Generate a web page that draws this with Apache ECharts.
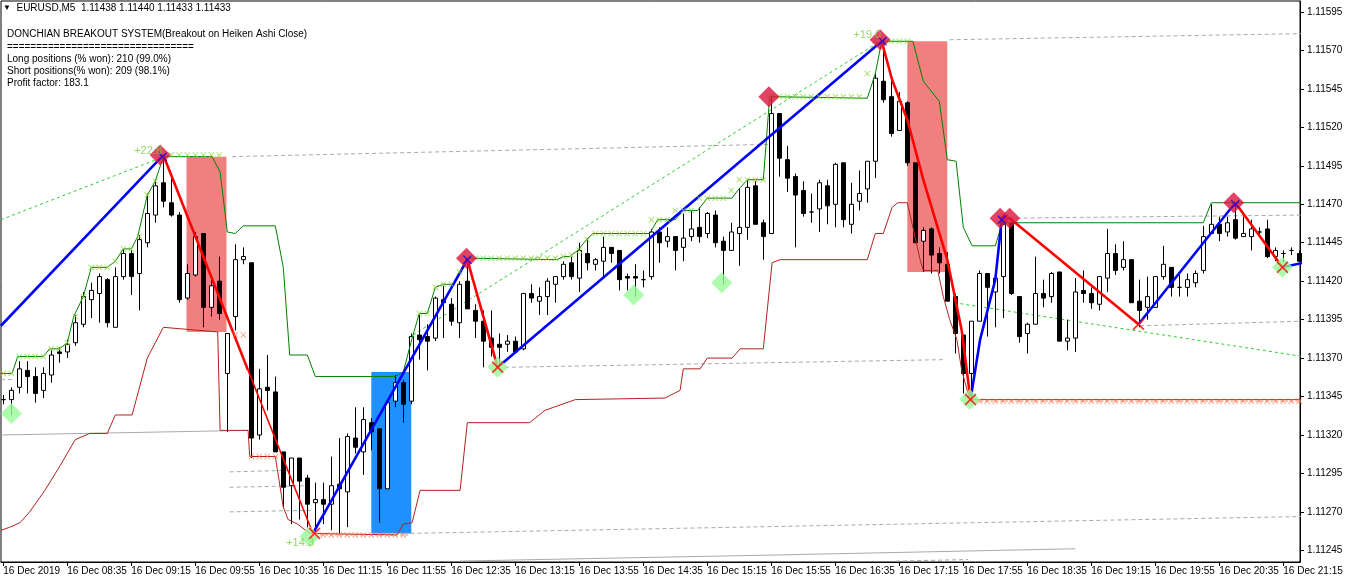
<!DOCTYPE html>
<html><head><meta charset="utf-8">
<script src="https://cdn.jsdelivr.net/npm/echarts@6/dist/echarts.min.js"></script>
<style>html,body{margin:0;padding:0;background:#fff}#c{width:1346px;height:582px}</style>
</head><body><div id="c"></div>
<script>
// ---------- axis labels ----------
const timeLabels = ['16 Dec 2019','16 Dec 08:35','16 Dec 09:15','16 Dec 09:55','16 Dec 10:35','16 Dec 11:15','16 Dec 11:55','16 Dec 12:35','16 Dec 13:15','16 Dec 13:55','16 Dec 14:35','16 Dec 15:15','16 Dec 15:55','16 Dec 16:35','16 Dec 17:15','16 Dec 17:55','16 Dec 18:35','16 Dec 19:15','16 Dec 19:55','16 Dec 20:35','16 Dec 21:15'];
const timeLabelBars = [0,8,16,24,32,40,48,56,64,72,80,88,96,104,112,120,128,136,144,152,160];
const priceTicks = [1.11245,1.11270,1.11295,1.11320,1.11345,1.11370,1.11395,1.11420,1.11445,1.11470,1.11495,1.11520,1.11545,1.11570,1.11595];

// ---------- candles (bar 0 = 16 Dec 07:55, M5) ----------
const opens = [1.11343,1.11343,1.11351,1.11362,1.11358,1.11349,1.11359,1.11374,1.11374,1.11380,
1.11392,1.11408,1.11412,1.11421,1.11390,1.11423,1.11438,1.11425,1.11445,1.11463,
1.11484,1.11471,1.11463,1.11409,1.11424,1.11451,1.11403,1.11420,1.11360,1.11397,
1.11434,1.11432,1.11320,1.11351,1.11348,1.11309,1.11287,1.11305,1.11292,1.11276,
1.11278,1.11275,1.11288,1.11283,1.11318,1.11309,1.11328,1.11324,1.11285,1.11342,
1.11354,1.11342,1.11385,1.11384,1.11383,1.11408,1.11405,1.11393,1.11420,1.11401,
1.11394,1.11383,1.11379,1.11379,1.11381,1.11376,1.11412,1.11407,1.11410,1.11418,
1.11423,1.11432,1.11422,1.11438,1.11431,1.11433,1.11442,1.11440,1.11423,1.11423,
1.11421,1.11423,1.11452,1.11446,1.11449,1.11442,1.11449,1.11455,1.11451,1.11463,
1.11446,1.11440,1.11451,1.11455,1.11482,1.11458,1.11451,1.11529,1.11499,1.11488,
1.11479,1.11465,1.11467,1.11482,1.11470,1.11497,1.11457,1.11472,1.11480,1.11498,
1.11550,1.11540,1.11518,1.11536,1.11497,1.11446,1.11454,1.11438,1.11431,1.11410,
1.11385,1.11360,1.11394,1.11425,1.11413,1.11423,1.11458,1.11410,1.11386,1.11392,
1.11412,1.11410,1.11426,1.11381,1.11383,1.11414,1.11412,1.11405,1.11422,1.11438,
1.11429,1.11434,1.11407,1.11403,1.11403,1.11423,1.11429,1.11416,1.11416,1.11419,
1.11427,1.11451,1.11457,1.11452,1.11460,1.11449,1.11449,1.11452,1.11454,1.11436,
1.11438,1.11440,1.11438];
const highs = [1.11346,1.11351,1.11368,1.11368,1.11364,1.11364,1.11375,1.11377,1.11382,1.11398,
1.11413,1.11419,1.11425,1.11422,1.11429,1.11441,1.11440,1.11450,1.11477,1.11486,
1.11501,1.11488,1.11465,1.11431,1.11452,1.11451,1.11423,1.11436,1.11386,1.11444,
1.11442,1.11432,1.11363,1.11372,1.11358,1.11309,1.11305,1.11305,1.11294,1.11289,
1.11289,1.11306,1.11318,1.11321,1.11338,1.11338,1.11331,1.11324,1.11341,1.11359,
1.11356,1.11386,1.11398,1.11392,1.11410,1.11417,1.11409,1.11420,1.11435,1.11405,
1.11401,1.11401,1.11386,1.11385,1.11384,1.11412,1.11418,1.11416,1.11422,1.11423,
1.11433,1.11436,1.11445,1.11448,1.11435,1.11449,1.11442,1.11440,1.11425,1.11431,
1.11427,1.11454,1.11455,1.11455,1.11449,1.11464,1.11466,1.11468,1.11465,1.11466,
1.11449,1.11458,1.11480,1.11486,1.11485,1.11460,1.11540,1.11529,1.11508,1.11490,
1.11485,1.11477,1.11486,1.11486,1.11497,1.11497,1.11484,1.11492,1.11498,1.11555,
1.11578,1.11550,1.11543,1.11537,1.11497,1.11455,1.11455,1.11442,1.11439,1.11412,
1.11385,1.11394,1.11427,1.11425,1.11427,1.11459,1.11458,1.11410,1.11393,1.11436,
1.11421,1.11426,1.11426,1.11395,1.11422,1.11427,1.11416,1.11423,1.11454,1.11444,
1.11446,1.11434,1.11421,1.11423,1.11423,1.11443,1.11429,1.11424,1.11425,1.11427,
1.11456,1.11470,1.11462,1.11462,1.11471,1.11462,1.11460,1.11455,1.11460,1.11442,
1.11440,1.11442,1.11440];
const lows = [1.11340,1.11333,1.11347,1.11347,1.11341,1.11344,1.11354,1.11367,1.11370,1.11378,
1.11390,1.11396,1.11393,1.11390,1.11390,1.11421,1.11411,1.11401,1.11442,1.11458,
1.11468,1.11462,1.11406,1.11408,1.11423,1.11390,1.11397,1.11395,1.11322,1.11388,
1.11431,1.11305,1.11317,1.11336,1.11309,1.11273,1.11262,1.11265,1.11260,1.11256,
1.11262,1.11258,1.11256,1.11260,1.11308,1.11294,1.11310,1.11263,1.11285,1.11338,
1.11328,1.11340,1.11369,1.11362,1.11381,1.11383,1.11391,1.11383,1.11402,1.11383,
1.11364,1.11371,1.11364,1.11374,1.11373,1.11375,1.11406,1.11398,1.11398,1.11406,
1.11421,1.11421,1.11413,1.11427,1.11427,1.11423,1.11432,1.11414,1.11414,1.11410,
1.11416,1.11421,1.11432,1.11442,1.11427,1.11433,1.11446,1.11445,1.11448,1.11442,
1.11418,1.11440,1.11430,1.11447,1.11457,1.11434,1.11451,1.11488,1.11478,1.11442,
1.11462,1.11458,1.11452,1.11457,1.11455,1.11455,1.11451,1.11466,1.11471,1.11487,
1.11536,1.11514,1.11518,1.11495,1.11445,1.11426,1.11425,1.11425,1.11407,1.11373,
1.11347,1.11343,1.11394,1.11384,1.11390,1.11396,1.11411,1.11380,1.11373,1.11392,
1.11403,1.11406,1.11381,1.11375,1.11374,1.11406,1.11402,1.11401,1.11413,1.11424,
1.11427,1.11406,1.11390,1.11395,1.11403,1.11421,1.11410,1.11410,1.11410,1.11416,
1.11425,1.11451,1.11446,1.11449,1.11447,1.11449,1.11440,1.11449,1.11435,1.11433,
1.11432,1.11437,1.11433];
const closes = [1.11343,1.11349,1.11363,1.11358,1.11347,1.11360,1.11372,1.11373,1.11379,1.11393,
1.11410,1.11414,1.11423,1.11393,1.11423,1.11438,1.11423,1.11447,1.11464,1.11482,
1.11472,1.11463,1.11408,1.11425,1.11449,1.11403,1.11417,1.11399,1.11386,1.11434,
1.11436,1.11318,1.11350,1.11349,1.11309,1.11286,1.11305,1.11290,1.11275,1.11278,
1.11275,1.11287,1.11285,1.11319,1.11312,1.11330,1.11322,1.11285,1.11341,1.11354,
1.11340,1.11384,1.11382,1.11381,1.11409,1.11406,1.11394,1.11418,1.11402,1.11394,
1.11381,1.11377,1.11377,1.11381,1.11374,1.11412,1.11409,1.11410,1.11420,1.11423,
1.11431,1.11423,1.11440,1.11432,1.11434,1.11442,1.11438,1.11421,1.11422,1.11422,
1.11421,1.11452,1.11445,1.11449,1.11440,1.11448,1.11454,1.11449,1.11464,1.11445,
1.11440,1.11452,1.11455,1.11481,1.11457,1.11449,1.11529,1.11500,1.11487,1.11476,
1.11464,1.11465,1.11484,1.11469,1.11496,1.11460,1.11470,1.11477,1.11498,1.11552,
1.11538,1.11516,1.11537,1.11497,1.11445,1.11453,1.11437,1.11432,1.11407,1.11386,
1.11360,1.11394,1.11425,1.11416,1.11422,1.11457,1.11412,1.11384,1.11392,1.11412,
1.11409,1.11425,1.11381,1.11383,1.11413,1.11412,1.11406,1.11423,1.11438,1.11427,
1.11434,1.11406,1.11401,1.11410,1.11423,1.11431,1.11416,1.11416,1.11421,1.11425,
1.11449,1.11457,1.11451,1.11458,1.11448,1.11451,1.11454,1.11452,1.11436,1.11440,
1.11438,1.11440,1.11433];

// ---------- Donchian channel ([bar, price]) ----------
const upperDonchian = [[-0.3,1.1136],[1.1,1.1136],[1.8,1.11371],[5,1.11371],[5.8,1.11376],[7,1.11376],[8,1.1138],[8.8,1.11397],[10,1.1141],[11,1.11429],[13,1.11429],[14,1.11433],[15,1.11441],[16,1.11441],[16.8,1.11449],[18,1.11476],[19,1.11485],[20,1.11501],[26.1,1.11501],[27.1,1.11491],[28,1.11452],[29,1.11451],[30,1.11456],[34,1.11456],[35,1.11429],[35.8,1.11372],[38,1.11372],[39,1.11358],[49,1.11358],[50,1.11361],[51.1,1.11383],[52,1.11399],[53,1.11399],[54,1.11416],[55,1.11418],[56.1,1.11418],[57.1,1.11426],[58,1.11435],[69.2,1.11434],[70,1.11436],[70.8,1.11436],[71.8,1.1144],[72.9,1.11447],[73.7,1.11451],[80.8,1.11451],[81.8,1.1146],[84,1.1146],[85,1.11466],[86.8,1.11466],[88,1.11474],[91.1,1.11474],[91.8,1.11479],[93,1.11486],[95,1.11486],[95.8,1.1154],[108,1.11539],[109,1.11555],[109.8,1.11576],[113.7,1.11576],[115,1.1155],[117,1.11537],[118,1.11499],[119.1,1.11498],[120,1.11455],[121.1,1.11443],[124,1.11443],[124.7,1.11455],[125,1.11458],[150,1.11458],[151,1.11471],[162.5,1.11471]];
const lowerDonchian = [[-0.3,1.11258],[0.8,1.1126],[2.1,1.11263],[3.3,1.1127],[5.2,1.11284],[7.1,1.113],[9,1.11317],[10.8,1.11321],[13,1.11321],[14,1.11333],[16.1,1.11333],[18,1.1137],[20,1.1139],[26.8,1.11387],[27.1,1.11323],[30.6,1.11323],[30.8,1.11306],[34,1.11306],[35,1.11273],[35.6,1.11265],[36.8,1.11262],[38.3,1.11256],[49.2,1.11255],[50,1.11262],[51.1,1.11263],[52.1,1.11284],[57.1,1.11284],[58,1.11328],[65.8,1.11328],[67.7,1.11336],[71.5,1.11343],[82.7,1.11344],[84.6,1.11349],[85,1.11363],[87.1,1.11363],[88,1.1137],[91.1,1.1137],[92.1,1.11376],[95,1.11376],[96.1,1.11432],[97.1,1.11434],[108,1.11434],[109,1.11451],[110,1.11451],[111.1,1.11468],[111.8,1.11471],[113,1.11471],[113.7,1.11455],[114.6,1.11434],[115,1.11427],[116.8,1.11427],[117.5,1.1141],[118.3,1.11395],[119.2,1.11382],[119.8,1.11362],[120.6,1.11347],[120.9,1.11343],[162.5,1.11343]];

// ---------- swing legs ----------
const upLegs = [
  [[-0.3,1.11391],[20,1.11502]],
  [[38.7,1.11256],[58,1.11434]],
  [[61.8,1.11364],[109.8,1.11576]],
  [[120.9,1.11343],[122.1,1.11382],[124,1.11421],[124.8,1.1146]],
  [[141.9,1.11392],[154,1.11471]],
  [[159.9,1.11429],[162.5,1.11432]]
];
const downLegs = [
  [[20,1.11502],[30.6,1.11362]],
  [[58,1.11434],[61.8,1.11364]],
  [[109.8,1.11576],[111.1,1.11551],[113,1.11525],[115,1.11486],[118,1.11434],[119.8,1.11388],[120.9,1.11343]],
  [[125.8,1.11461],[141.9,1.11392]],
  [[154,1.11471],[159.9,1.11429]]
];
const thinDownLegs = [[[30.6,1.11362],[38.7,1.11256]]];

// ---------- trade level lines ----------
const greyDashed = [
  [[28.6,1.11501],[95.8,1.11509]],
  [[118.3,1.11577],[162.5,1.11581]],
  [[-0.3,1.11356],[1.2,1.11356]],
  [[62.7,1.11364],[117.8,1.11369]],
  [[142.1,1.11391],[162.5,1.11394]],
  [[125.8,1.11461],[162.5,1.11463]],
  [[28.3,1.11296],[35.5,1.11297]],
  [[28.3,1.11286],[37.9,1.11287]],
  [[28.3,1.1127],[38.6,1.11271]],
  [[50.9,1.11256],[162.5,1.11267]],
  [[111.6,1.11238],[120.6,1.11239]]
];
const greySolid = [
  [[-0.3,1.1132],[30.6,1.11323]],
  [[57.1,1.11238],[96.9,1.11242],[134,1.11246]]
];
const greenDashed = [
  [[-0.3,1.1146],[19.6,1.115]],
  [[50.6,1.11383],[109.6,1.11576]],
  [[118.9,1.11406],[162.5,1.11371]]
];
const orangeDashed = [
  [[30.8,1.11306],[34.2,1.11306]],
  [[39.6,1.11255],[50.8,1.11255]],
  [[121.5,1.11342],[162.5,1.11342]]
];

// ---------- trade boxes: [from bar, top], [to bar, bottom], colour ----------
const tradeBoxes = [
  [[22.9,1.11501],[27.9,1.11387],'#f08080'],
  [[46,1.11361],[51,1.11256],'#1e90ff'],
  [[113,1.11576],[118,1.11426],'#f08080']
];

// ---------- signal markers ----------
const highDiamonds = [[19.6,1.11502],[57.9,1.11435],[95.7,1.1154],[109.6,1.11577],[124.6,1.11461],[125.8,1.11461],[153.8,1.11471]];
const lowDiamonds = [[1,1.11334],[38.3,1.11254],[61.8,1.11364],[78.8,1.11411],[89.8,1.11419],[120.8,1.11343],[159.9,1.11429]];
const lowCrosses = [[38.9,1.11256],[61.8,1.11364],[120.9,1.11343],[141.9,1.11392],[159.9,1.11429]];
const highCrosses = [[19.9,1.11501],[58,1.11434],[109.9,1.11576],[124.8,1.1146],[154,1.1147]];
const greenMarks = [[0,1.1136],[1,1.1136],[2,1.11371],[3,1.11371],[4,1.11371],[5,1.11371],[6,1.11376],[7,1.11376],[8,1.1138],[9,1.11397],
[10,1.1141],[11,1.11429],[12,1.11429],[13,1.11429],[14,1.11433],[15,1.11441],[16,1.11441],[17,1.11449],[18,1.11476],[19,1.11485],
[20,1.11501],[21,1.11502],[22,1.11502],[23,1.11502],[24,1.11502],[25,1.11502],[26,1.11502],[27,1.11502],
[52,1.11399],[53,1.11399],[54,1.11416],[55,1.11418],[56,1.11418],[57,1.11426],[58,1.11435],[59,1.11435],[60,1.11435],[61,1.11435],[62,1.11435],[63,1.11435],[64,1.11435],[65,1.11435],[66,1.11435],[67,1.11435],[68,1.11435],[69,1.11435],
[70,1.11436],[71,1.11437],[72,1.1144],[73,1.11447],[74,1.11451],[75,1.11451],[76,1.11451],[77,1.11451],[78,1.11451],[79,1.11451],[80,1.11451],
[81,1.1146],[82,1.1146],[83,1.1146],[84,1.11466],[85,1.11466],[86,1.11466],[87,1.11474],[88,1.11474],[89,1.11474],[90,1.11474],[91,1.11479],[92,1.11486],[93,1.11486],[94,1.11486],[95,1.11486],
[96,1.1154],[97,1.1154],[98,1.1154],[99,1.1154],[100,1.1154],[101,1.1154],[102,1.1154],[103,1.1154],[104,1.1154],[105,1.1154],[106,1.1154],[107,1.1154],
[108,1.11555],[109,1.11576],[110,1.11576],[111,1.11576],[112,1.11576],[113,1.11576]];
const orangeMarks = [[29,1.11385],[30,1.11385],[31,1.11306],[32,1.11306],[33,1.11306],[34,1.11306],
[40,1.11255],[41,1.11255],[42,1.11255],[43,1.11255],[44,1.11255],[45,1.11255],[46,1.11255],[47,1.11255],[48,1.11255],[49,1.11255],[50,1.11255],
[122,1.11342],[123,1.11342],[124,1.11342],[125,1.11342],[126,1.11342],[127,1.11342],[128,1.11342],[129,1.11342],[130,1.11342],[131,1.11342],
[132,1.11342],[133,1.11342],[134,1.11342],[135,1.11342],[136,1.11342],[137,1.11342],[138,1.11342],[139,1.11342],[140,1.11342],[141,1.11342],
[142,1.11342],[143,1.11342],[144,1.11342],[145,1.11342],[146,1.11342],[147,1.11342],[148,1.11342],[149,1.11342],[150,1.11342],[151,1.11342],
[152,1.11342],[153,1.11342],[154,1.11342],[155,1.11342],[156,1.11342],[157,1.11342],[158,1.11342],[159,1.11342],[160,1.11342],[161,1.11342],[162,1.11342]];
const profitLabels = [[18.1,1.11505,'+22.8'],[37.1,1.1125,'+14.3'],[108,1.1158,'+19.0']];

const askPrice = 1.11445, bidPrice = 1.11433;
const headerText = 'EURUSD,M5  1.11438 1.11440 1.11433 1.11433';
const infoLines = ['','DONCHIAN BREAKOUT SYSTEM(Breakout on Heiken Ashi Close)','================================','Long positions (% won): 210 (99.0%)','Short positions(% won): 209 (98.1%)','Profit factor: 183.1'];

// ---------- chart ----------
const FONT = 'Liberation Sans';
const X_SYMBOL = 'path://M0,1L1,0L5,4L9,0L10,1L6,5L10,9L9,10L5,6L1,10L0,9L4,5Z';
const chart = echarts.init(document.getElementById('c'));
const series = [];
const lineLeg = (pts, color, width, type, z) => ({
  type:'line', data: pts, symbol:'none', silent:true, z: z,
  lineStyle:{color: color, width: width, type: type}
});
greySolid.forEach(l => series.push(lineLeg(l, '#a9a9a9', 1, 'solid', 2)));
greyDashed.forEach(l => series.push(lineLeg(l, '#a9a9a9', 1, [4,3], 2)));
greenDashed.forEach(l => series.push(lineLeg(l, '#32cd32', 1, [3,3], 2)));
orangeDashed.forEach(l => series.push(lineLeg(l, '#fa8072', 1, [3,2], 2)));
series.push({
  type:'candlestick', z:3, barWidth:5, silent:true,
  data: opens.map((o,i) => [i, o, closes[i], lows[i], highs[i]]),
  itemStyle:{color:'#ffffff', color0:'#000000', borderColor:'#000000', borderColor0:'#000000', borderWidth:1},
  markArea:{silent:true, data: tradeBoxes.map(b => [{xAxis:b[0][0], yAxis:b[0][1], itemStyle:{color:b[2], opacity:1}}, {xAxis:b[1][0], yAxis:b[1][1]}])},
  markLine:{silent:true, symbol:'none', animation:false, data:[
    {yAxis: askPrice, lineStyle:{color:'#ff4500', width:1, type:'solid'}, label:{backgroundColor:'#ff4500'}},
    {yAxis: bidPrice, lineStyle:{color:'#c0c0c0', width:1, type:'solid'}, label:{backgroundColor:'#000000'}}
  ], label:{show:true, position:'end', distance:1, formatter: p => p.value.toFixed(5), color:'#fff', fontFamily:FONT, fontSize:10, padding:[2,4,1,5]}}
});
series.push(lineLeg(upperDonchian, '#008000', 1, 'solid', 4));
series.push(lineLeg(lowerDonchian, '#b22222', 1, 'solid', 4));
thinDownLegs.forEach(l => series.push(lineLeg(l, '#ff0000', 1.5, 'solid', 5)));
upLegs.forEach(l => series.push(lineLeg(l, '#0000ff', 2.6, 'solid', 5)));
downLegs.forEach(l => series.push(lineLeg(l, '#ff0000', 2.6, 'solid', 5)));
series.push({type:'scatter', z:6, silent:true, data: greenMarks, symbol: X_SYMBOL, symbolSize:6, itemStyle:{color:'#8fd43a'}});
series.push({type:'scatter', z:6, silent:true, data: orangeMarks, symbol: X_SYMBOL, symbolSize:6, itemStyle:{color:'#ff7f50'}});
series.push({type:'scatter', z:7, silent:true, data: highDiamonds, symbol:'diamond', symbolSize:21, itemStyle:{color:'#dc143c'}});
series.push({type:'scatter', z:7, silent:true, data: lowDiamonds, symbol:'diamond', symbolSize:21, itemStyle:{color:'#98fb98'}});
series.push({type:'scatter', z:8, silent:true, data: lowCrosses, symbol: X_SYMBOL, symbolSize:12, itemStyle:{color:'#ff0000'}});
series.push({type:'scatter', z:8, silent:true, data: highCrosses, symbol: X_SYMBOL, symbolSize:9, itemStyle:{color:'#0000ff'}});
series.push({type:'scatter', z:9, silent:true, symbolSize:1, itemStyle:{color:'rgba(0,0,0,0)'},
  data: profitLabels.map(d => ({value:[d[0], d[1]], label:{formatter: d[2]}})),
  label:{show:true, position:'inside', color:'#7ccd3c', fontFamily:FONT, fontSize:11}});

chart.setOption({
  animation:false,
  backgroundColor:'#ffffff',
  title:[
    {text:'{t|▼}  ' + headerText, left:3, top:3, padding:0,
     textStyle:{fontFamily:FONT, fontSize:10, fontWeight:'normal', color:'#000', rich:{t:{fontSize:8, color:'#000'}}}},
    {text: infoLines.join('\n'), left:7, top:16, padding:0,
     textStyle:{fontFamily:FONT, fontSize:10, fontWeight:'normal', color:'#000', lineHeight:12.3}}
  ],
  grid:{left:1, right:46, top:1, bottom:20, show:true, borderColor:'#000', borderWidth:1, backgroundColor:'#fff'},
  xAxis:{type:'value', min:-0.2875, max:162.0875, splitLine:{show:false},
    axisLine:{show:true, onZero:false, lineStyle:{color:'#000', width:1}},
    axisTick:{show:true, customValues: timeLabelBars, length:4, lineStyle:{color:'#000'}},
    axisLabel:{customValues: timeLabelBars, align:'left', margin:4, color:'#000', fontFamily:FONT, fontSize:10,
      formatter: v => timeLabels[timeLabelBars.indexOf(Math.round(v))]}},
  yAxis:{type:'value', position:'right', min:1.112374, max:1.116022, splitLine:{show:false}, scale:true,
    axisLine:{show:true, onZero:false, lineStyle:{color:'#000', width:1}},
    axisTick:{show:true, customValues: priceTicks, length:4, lineStyle:{color:'#000'}},
    axisLabel:{customValues: priceTicks, margin:7, color:'#000', fontFamily:FONT, fontSize:10, formatter: v => v.toFixed(5)}},
  series: series
});
</script></body></html>
